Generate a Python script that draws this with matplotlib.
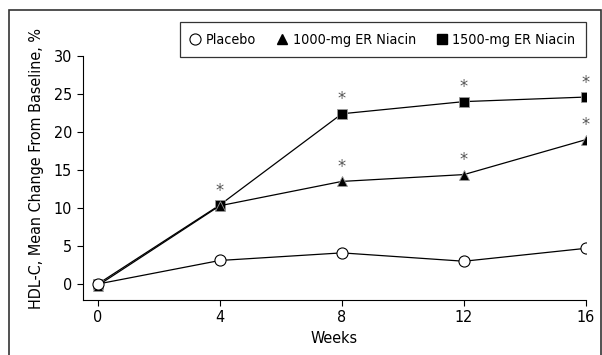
import matplotlib
matplotlib.use("Agg")
import matplotlib.pyplot as plt
from matplotlib import font_manager as fm
from matplotlib.patches import Rectangle
from matplotlib.lines import Line2D

weeks = [0, 4, 8, 12, 16]
placebo = [0.0, 3.1, 4.1, 3.0, 4.7]
niacin1000 = [-0.2, 10.3, 13.5, 14.4, 19.0]
niacin1500 = [0.0, 10.4, 22.4, 24.0, 24.6]
star1000 = [False, True, True, True, True]
star1500 = [False, False, True, True, True]
yticks = [0, 5, 10, 15, 20, 25, 30]

# prefer a condensed sans if one is installed
cands = []
for f in fm.fontManager.ttflist:
    n = f.name
    st = str(f.stretch).lower()
    if ('narrow' in n.lower() or 'condensed' in n.lower() or 'condensed' in st
            or (isinstance(f.stretch, int) and f.stretch < 500)):
        if 'mono' not in n.lower() and 'serif' not in n.lower().replace('sans', ''):
            cands.append(f)
family = ['Liberation Sans', 'DejaVu Sans']
stretch = 'normal'
if cands:
    family = [cands[0].name] + family
    stretch = cands[0].stretch
plt.rcParams['font.family'] = family
plt.rcParams['font.stretch'] = stretch

fig = plt.figure(figsize=(6.02, 3.55), dpi=100)
ax = fig.add_axes([82.5/602, 55/355, (586-82.5)/602, (300-56)/355])

# outer frame
fig.patches.append(Rectangle((8.5/602, -0.1), (600.5-8.5)/602, 1.1 - 10/355,
                             transform=fig.transFigure, fill=False,
                             edgecolor='#333333', linewidth=1.2))

ax.plot(weeks, niacin1500, color='black', lw=0.9, marker='s', ms=7,
        mfc='black', mec='#999999', mew=0.6, zorder=3)
ax.plot(weeks, niacin1000, color='black', lw=0.9, marker='^', ms=7.5,
        mfc='black', mec='#999999', mew=0.6, zorder=4)
ax.plot(weeks, placebo, color='black', lw=0.9, marker='o', ms=8,
        mfc='white', mec='black', mew=0.8, zorder=5)

for x, y, s in zip(weeks, niacin1500, star1500):
    if s:
        ax.text(x, y + 0.7, '*', ha='center', va='bottom', fontsize=13, color='#555555')
for x, y, s in zip(weeks, niacin1000, star1000):
    if s:
        ax.text(x, y + 0.7, '*', ha='center', va='bottom', fontsize=13, color='#555555')

ax.set_xlim(-0.5, 16)
ax.set_ylim(-2.1, 30)
ax.set_xticks(weeks)
ax.set_yticks(yticks)
ax.spines['top'].set_visible(False)
ax.spines['right'].set_visible(False)
ax.spines['left'].set_bounds(-2.1, 30)
ax.tick_params(labelsize=11.5, length=4, width=0.8)
ax.set_xlabel('Weeks', fontsize=11.5, labelpad=4)
ax.set_ylabel('HDL-C, Mean Change From Baseline, %', fontsize=11.5)
ax.yaxis.set_label_coords(-0.076, 0.539)

handles = [
    Line2D([], [], ls='none', marker='o', ms=8, mfc='white', mec='black', mew=0.8),
    Line2D([], [], ls='none', marker='^', ms=7.5, mfc='black', mec='black'),
    Line2D([], [], ls='none', marker='s', ms=7, mfc='black', mec='black'),
]
leg = fig.legend(handles, ['Placebo', '1000-mg ER Niacin', '1500-mg ER Niacin'],
                 loc='upper right', bbox_to_anchor=(585.5/602, 1 - 22.5/355),
                 ncol=3, frameon=True, fancybox=False, fontsize=10.3,
                 handlelength=0.7, handletextpad=0.4, columnspacing=1.45,
                 borderpad=0.7, borderaxespad=0)
leg.get_frame().set_edgecolor('black')
leg.get_frame().set_linewidth(0.9)

fig.savefig('out.png', dpi=100)
